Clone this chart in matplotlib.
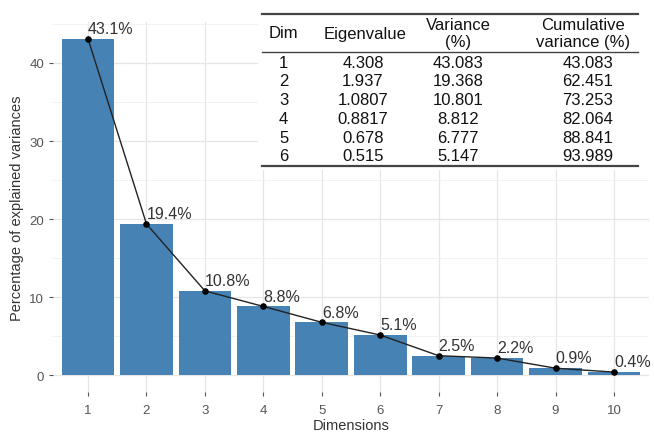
import matplotlib.pyplot as plt
from matplotlib.patches import Rectangle
from matplotlib.lines import Line2D

plt.rcParams['font.family'] = ['Liberation Sans', 'DejaVu Sans']

# data
dims = [1, 2, 3, 4, 5, 6, 7, 8, 9, 10]
variances = [43.083, 19.368, 10.801, 8.812, 6.777, 5.147, 2.5, 2.2, 0.9, 0.4]
labels = ["43.1%", "19.4%", "10.8%", "8.8%", "6.8%", "5.1%", "2.5%", "2.2%", "0.9%", "0.4%"]

tab_dim = ["1", "2", "3", "4", "5", "6"]
tab_eig = ["4.308", "1.937", "1.0807", "0.8817", "0.678", "0.515"]
tab_var = ["43.083", "19.368", "10.801", "8.812", "6.777", "5.147"]
tab_cum = ["43.083", "62.451", "73.253", "82.064", "88.841", "93.989"]

W, H = 654, 435
fig = plt.figure(figsize=(W / 100, H / 100), dpi=100)
ax = fig.add_axes([53 / W, 1 - 393 / H, (649 - 53) / W, (393 - 23) / H])

ax.bar(dims, variances, width=0.9, color="#4682B4", zorder=2)
ax.plot(dims, variances, color="#222222", lw=1, zorder=3)
ax.scatter(dims, variances, color="black", s=14, zorder=4)
for d, v, lab in zip(dims, variances, labels):
    ax.text(d, v + 0.35, lab, ha="left", va="bottom", fontsize=11.5, color="#333333", zorder=5)

ax.set_xlim(0.4, 10.6)
ax.set_ylim(-2.15, 45.25)
ax.set_xticks(dims)
ax.set_yticks([0, 10, 20, 30, 40])
ax.set_yticks([5, 15, 25, 35, 45], minor=True)
ax.grid(True, which="major", color="#e6e6e6", lw=0.9, zorder=0)
ax.grid(True, which="minor", axis="y", color="#f0f0f0", lw=0.6, zorder=0)
ax.tick_params(axis="both", which="major", colors="#555555", labelsize=9.5, length=3, width=0.8)
ax.tick_params(axis="y", which="minor", length=0)
ax.tick_params(axis="x", pad=6)
for s in ax.spines.values():
    s.set_visible(False)
ax.set_xlabel("Dimensions", fontsize=10.5, color="#333333", labelpad=1)
ax.set_ylabel("Percentage of explained variances", fontsize=10.5, color="#333333", labelpad=4)


# table overlay, drawn in pixel coords
def fx(x):
    return x / W


def fy(y):
    return 1 - y / H


fig.patches.append(Rectangle((fx(258), fy(171)), fx(392), 163 / H, transform=fig.transFigure,
                             facecolor="white", edgecolor="none", zorder=10))
for yy, lw in [(15, 1.6), (53, 1.0), (167, 1.6)]:
    fig.add_artist(Line2D([fx(262), fx(638)], [fy(yy), fy(yy)], transform=fig.transFigure,
                          color="#444444", lw=lw, zorder=11))

tk = dict(transform=fig.transFigure, fontsize=12, color="#111111", zorder=12, va="center")
fig.text(fx(283), fy(34), "Dim", ha="center", **tk)
fig.text(fx(365), fy(34), "Eigenvalue", ha="center", **tk)
fig.text(fx(458), fy(25), "Variance", ha="center", **tk)
fig.text(fx(458), fy(43), "(%)", ha="center", **tk)
fig.text(fx(583), fy(25), "Cumulative", ha="center", **tk)
fig.text(fx(583), fy(43), "variance (%)", ha="center", **tk)
for i in range(len(tab_dim)):
    y = 63 + i * 18.8
    fig.text(fx(279), fy(y), tab_dim[i], ha="left", **tk)
    fig.text(fx(363), fy(y), tab_eig[i], ha="center", **tk)
    fig.text(fx(458), fy(y), tab_var[i], ha="center", **tk)
    fig.text(fx(588), fy(y), tab_cum[i], ha="center", **tk)

fig.savefig("out.png", dpi=100)
